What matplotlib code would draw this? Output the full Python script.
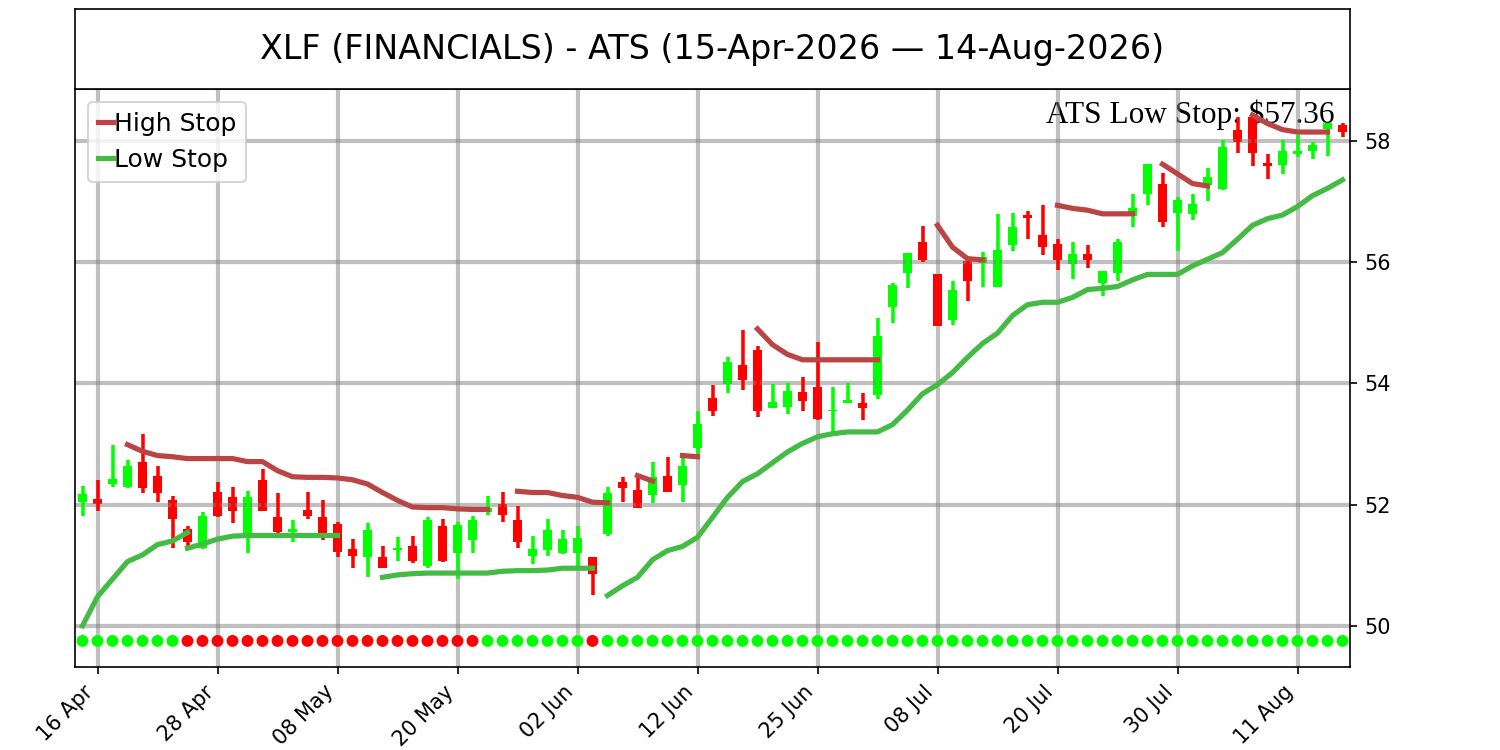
import numpy as np
import pandas as pd
import matplotlib
matplotlib.use("Agg")
import matplotlib.pyplot as plt

# trading days (NYSE holidays removed)
dates = pd.bdate_range("2026-04-15", "2026-08-14", freq="C",
                       holidays=["2026-05-25", "2026-06-19", "2026-07-03"])

opens = [52.04, 52.10, 52.34, 52.29, 52.70, 52.48, 52.08, 51.59, 51.28, 52.20,
         52.13, 51.50, 52.40, 51.79, 51.54, 51.91, 51.79, 51.68, 51.26, 51.14,
         51.14, 51.25, 51.32, 50.98, 51.64, 51.20, 51.42, 51.88, 52.01, 51.74,
         51.16, 51.25, 51.20, 51.20, 51.13, 51.52, 52.38, 52.24, 52.16, 52.48,
         52.32, 52.93, 53.76, 53.99, 54.30, 54.56, 53.60, 53.61, 53.86, 53.94,
         53.54, 53.67, 53.68, 53.81, 55.26, 55.83, 56.33, 55.80, 55.05, 56.02,
         55.99, 55.59, 56.28, 56.78, 56.45, 56.31, 55.98, 56.14, 55.66, 55.82,
         56.76, 57.12, 57.30, 56.82, 56.80, 57.27, 57.21, 58.19, 58.40, 57.64,
         57.61, 57.79, 57.83, 58.20, 58.26]
highs = [52.31, 52.40, 52.98, 52.74, 53.17, 52.63, 52.15, 51.65, 51.88, 52.38,
         52.29, 52.23, 52.59, 52.19, 51.75, 52.21, 52.07, 51.72, 51.43, 51.69,
         51.32, 51.47, 51.49, 51.79, 51.76, 51.71, 51.82, 52.15, 52.21, 51.98,
         51.49, 51.76, 51.58, 51.65, 51.13, 52.29, 52.46, 52.45, 52.70, 52.79,
         52.77, 53.54, 53.97, 54.43, 54.88, 54.61, 53.99, 54.01, 54.10, 54.68,
         53.94, 54.01, 53.84, 55.08, 55.65, 56.16, 56.60, 55.80, 55.69, 56.02,
         56.17, 56.79, 56.81, 56.84, 56.94, 56.38, 56.33, 56.28, 55.85, 56.38,
         57.12, 57.62, 57.48, 57.07, 57.12, 57.55, 58.02, 58.40, 58.40, 57.79,
         58.02, 58.10, 57.99, 58.30, 58.30]
lows = [51.81, 51.90, 52.29, 52.27, 52.19, 52.05, 51.29, 51.31, 51.27, 51.79,
        51.69, 51.20, 51.89, 51.47, 51.38, 51.77, 51.42, 51.13, 50.95, 50.80,
        50.95, 51.07, 51.03, 50.96, 51.05, 50.77, 51.20, 51.83, 51.71, 51.29,
        51.02, 51.16, 51.18, 50.96, 50.50, 51.48, 52.05, 51.94, 52.02, 52.20,
        52.04, 52.81, 53.47, 53.84, 53.90, 53.45, 53.60, 53.50, 53.54, 53.40,
        53.20, 53.67, 53.39, 53.74, 55.00, 55.58, 56.01, 54.95, 54.97, 55.36,
        55.60, 55.59, 56.19, 56.38, 56.12, 55.88, 55.72, 55.91, 55.44, 55.69,
        56.58, 56.94, 56.58, 56.19, 56.70, 57.01, 57.20, 57.81, 57.59, 57.37,
        57.46, 57.73, 57.70, 57.76, 58.06]
closes = [52.17, 52.01, 52.43, 52.63, 52.27, 52.19, 51.77, 51.39, 51.82, 51.82,
          51.89, 52.13, 51.89, 51.55, 51.59, 51.81, 51.49, 51.22, 51.15, 51.58,
          50.96, 51.29, 51.07, 51.74, 51.07, 51.66, 51.74, 51.94, 51.83, 51.39,
          51.27, 51.58, 51.43, 51.45, 50.85, 52.19, 52.27, 51.94, 52.46, 52.20,
          52.63, 53.33, 53.54, 54.36, 54.05, 53.54, 53.70, 53.88, 53.71, 53.42,
          53.57, 53.73, 53.59, 54.79, 55.63, 56.16, 56.03, 54.95, 55.55, 55.69,
          56.09, 56.20, 56.58, 56.73, 56.25, 56.03, 56.13, 56.04, 55.85, 56.33,
          56.89, 57.62, 56.67, 57.02, 56.96, 57.40, 57.91, 57.98, 57.81, 57.59,
          57.83, 57.83, 57.93, 58.30, 58.15]

# stop legs: (first bar index, values)
high_stop_legs = [
    (3, [52.99, 52.88, 52.81, 52.79, 52.76, 52.76, 52.76, 52.76, 52.71, 52.71,
         52.56, 52.46, 52.45, 52.45, 52.44, 52.41, 52.34, 52.20, 52.07, 51.96,
         51.95, 51.95, 51.93, 51.92, 51.92]),
    (29, [52.22, 52.20, 52.20, 52.15, 52.12, 52.04, 52.03]),
    (37, [52.48, 52.39]),
    (40, [52.81, 52.79]),
    (45, [54.90, 54.64, 54.48, 54.39, 54.39, 54.39, 54.39, 54.39, 54.39]),
    (57, [56.61, 56.25, 56.06, 56.04]),
    (65, [56.94, 56.89, 56.86, 56.80, 56.80, 56.80]),
    (72, [57.62, 57.46, 57.30, 57.26]),
    (78, [58.43, 58.29, 58.19, 58.15, 58.15, 58.15]),
]
low_stop_legs = [
    (0, [50.00, 50.48, 50.77, 51.06, 51.17, 51.34, 51.40, 51.54]),
    (7, [51.28, 51.35, 51.43, 51.48, 51.49, 51.49, 51.49, 51.49, 51.49, 51.49,
         51.49]),
    (20, [50.80, 50.84, 50.86, 50.87, 50.87, 50.87, 50.87, 50.87, 50.90, 50.91,
          50.91, 50.92, 50.95, 50.95, 50.95]),
    (35, [50.50, 50.66, 50.80, 51.09, 51.24, 51.31, 51.46, 51.79, 52.12, 52.38,
          52.51, 52.69, 52.87, 53.01, 53.12, 53.17, 53.20, 53.20, 53.20, 53.32,
          53.56, 53.83, 53.98, 54.18, 54.43, 54.66, 54.83, 55.12, 55.30, 55.34,
          55.34, 55.42, 55.55, 55.57, 55.60, 55.71, 55.80, 55.80, 55.80, 55.94,
          56.05, 56.16, 56.38, 56.61, 56.72, 56.78, 56.92, 57.10, 57.22, 57.36]),
]
# 1 = bearish state marker
state_red = [0] * 7 + [1] * 20 + [0] * 7 + [1] + [0] * 50
marker_level = 49.75

title = "XLF (FINANCIALS) - ATS (15-Apr-2026 \u2014 14-Aug-2026)"

o = np.array(opens)
h = np.array(highs)
l = np.array(lows)
c = np.array(closes)
x = np.arange(len(dates))
up = c >= o
cols = np.where(up, "#00ff00", "#ff0000")

fig = plt.figure(figsize=(10, 5), dpi=150)
ax = fig.add_axes([0.05, 0.1107, 0.85, 0.7706])
tax = fig.add_axes([0.05, 0.8813, 0.85, 0.1067])
tax.set_xticks([])
tax.set_yticks([])
tax.text(0.5, 0.5, title, ha="center", va="center", fontsize=16,
         transform=tax.transAxes)

ax.vlines(x, l, h, colors=cols, linewidth=1.7)
body = np.maximum(np.abs(c - o), 0.02)
ax.bar(x, body, bottom=np.minimum(o, c), width=0.65, color=cols)

for n, (s, vals) in enumerate(high_stop_legs):
    ax.plot(np.arange(s, s + len(vals)), vals, color="#bb4444", lw=2.5,
            label="High Stop" if n == 0 else None)
for n, (s, vals) in enumerate(low_stop_legs):
    ax.plot(np.arange(s, s + len(vals)), vals, color="#44bb44", lw=2.5,
            label="Low Stop" if n == 0 else None)

dot_cols = ["#ff0000" if r else "#00ff00" for r in state_red]
ax.scatter(x, np.full(len(x), marker_level), c=dot_cols, s=22, zorder=3)

ax.text(0.988, 0.982, "ATS Low Stop: $%.2f" % low_stop_legs[-1][1][-1],
        transform=ax.transAxes, ha="right", va="top", fontsize=15,
        family="Liberation Serif", zorder=0.5)

ax.set_xlim(-0.5, len(x) - 0.5)
ax.set_ylim(49.32, 58.86)
ax.set_yticks([50, 52, 54, 56, 58])
ax.yaxis.tick_right()
ticks = list(range(1, len(x), 8))
ax.set_xticks(ticks)
ax.set_xticklabels([dates[i].strftime("%d %b") for i in ticks], rotation=45,
                   ha="right")
ax.grid(True, color="gray", alpha=0.5, linewidth=2)
ax.legend(loc="upper left", fontsize=12, handlelength=0.6, handletextpad=0.05)

fig.savefig("out.png", dpi=150)
